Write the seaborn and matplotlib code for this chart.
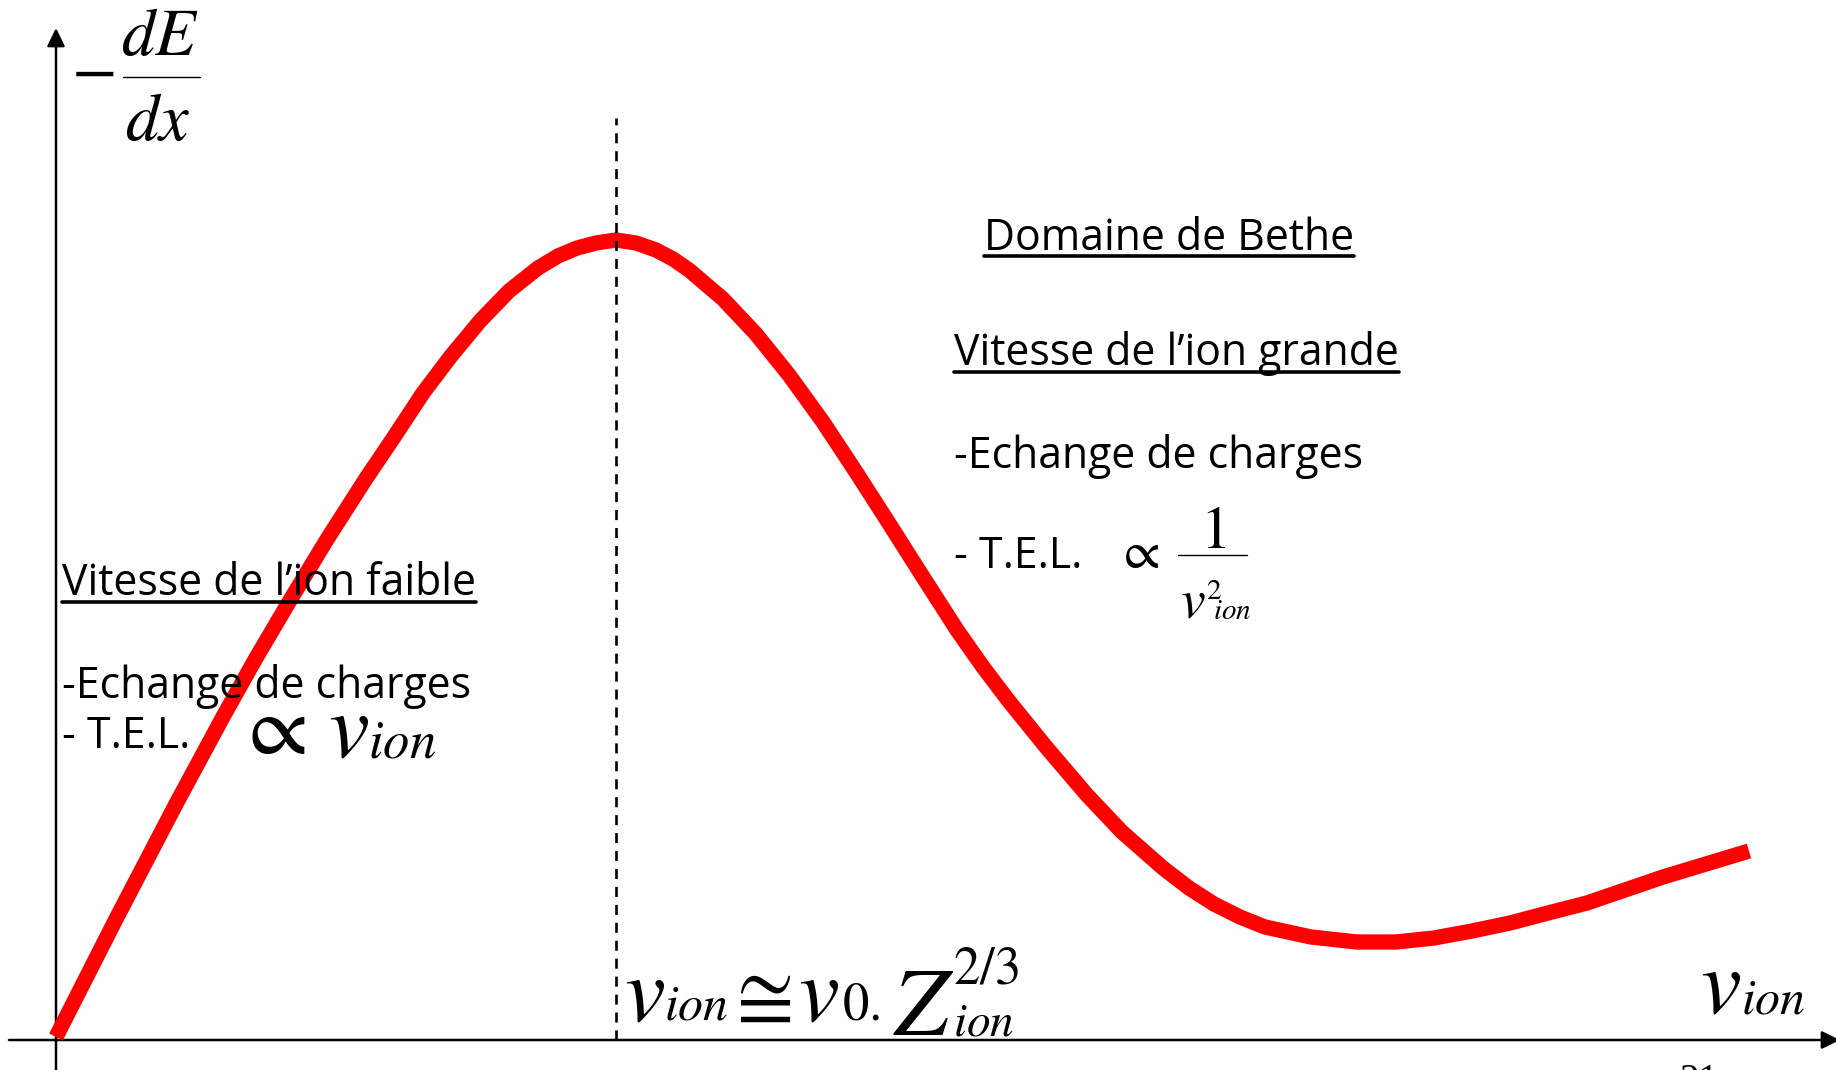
import matplotlib
matplotlib.use("Agg")
import matplotlib.pyplot as plt
import seaborn as sns
from matplotlib.lines import Line2D

sns.set_theme(style="white")
plt.rcParams["mathtext.fontset"] = "stix"
plt.rcParams["font.family"] = ["Open Sans", "DejaVu Sans"]

# Stopping power curve (arbitrary units): ion speed vs -dE/dx
speed = [0.00, 0.60, 1.20, 1.68, 2.00, 2.33, 2.70, 3.09, 3.38, 3.67, 3.95,
         4.24, 4.53, 4.82, 5.02, 5.21, 5.40, 5.60, 5.80, 6.00, 6.17, 6.33,
         6.67, 7.00, 7.33, 7.67, 8.00, 8.34, 8.67, 9.01, 9.27, 9.52, 9.90,
         10.31, 10.66, 11.07, 11.33, 11.58, 11.84, 12.09, 12.55, 13.01,
         13.40, 13.78, 14.16, 14.54, 14.92, 15.31, 15.69, 16.07, 16.50,
         16.93]
loss = [0.03, 1.21, 2.36, 3.25, 3.82, 4.38, 4.99, 5.60, 6.03, 6.47, 6.84,
        7.19, 7.49, 7.72, 7.84, 7.92, 7.97, 8.00, 7.97, 7.90, 7.81, 7.70,
        7.41, 7.06, 6.65, 6.18, 5.68, 5.15, 4.63, 4.10, 3.73, 3.40, 2.93,
        2.45, 2.08, 1.72, 1.52, 1.36, 1.23, 1.13, 1.03, 0.98,
        0.98, 1.02, 1.09, 1.17, 1.27, 1.37, 1.50, 1.63, 1.76,
        1.89]
peak_speed = 5.60
peak_line_top = 9.22

W, H = 1836, 1070
fig = plt.figure(figsize=(W / 100, H / 100), dpi=100)
fig.patch.set_facecolor("white")
ax = fig.add_axes([0, 0, 1, 1])
ax.set_xlim(-0.56, 17.80)
ax.set_ylim(-0.30, 10.40)
ax.axis("off")

# axes with arrow heads
arrow = dict(arrowstyle="-|>,head_length=0.55,head_width=0.27", lw=1.8,
             color="black", mutation_scale=20, shrinkA=0, shrinkB=0)
ax.annotate("", xy=(17.84, 0), xytext=(-0.47, 0), arrowprops=arrow,
            annotation_clip=False, zorder=1)
ax.annotate("", xy=(0, 10.12), xytext=(0, -0.30), arrowprops=arrow,
            annotation_clip=False, zorder=1)

sns.lineplot(x=speed, y=loss, ax=ax, color="#ff0000", lw=11, sort=False,
             estimator=None, solid_capstyle="butt", solid_joinstyle="round",
             zorder=3)
ax.plot([peak_speed, peak_speed], [0, peak_line_top], color="black", lw=1.9,
        linestyle=(0, (3.8, 3.0)), zorder=4)


def px(x, y):
    return x / W, 1 - y / H


def put(x, y, s, **kw):
    kw.setdefault("va", "baseline")
    kw.setdefault("ha", "left")
    kw.setdefault("color", "black")
    return fig.text(*px(x, y), s, **kw)


def hline(x0, x1, y, lw):
    fig.add_artist(Line2D([x0 / W, x1 / W], [1 - y / H, 1 - y / H],
                          transform=fig.transFigure, color="black", lw=lw))


# body text size chosen from the width of one line
renderer = fig.canvas.get_renderer()
probe = put(0, 0, "Vitesse de l\u2019ion grande", fontsize=30)
fs = 30 * 446 / probe.get_window_extent(renderer).width
probe.remove()

underlined = []
underlined.append((put(984, 250, "Domaine de Bethe", fontsize=fs), 256))
underlined.append((put(954, 365, "Vitesse de l\u2019ion grande", fontsize=fs), 372))
put(954, 468, "-Echange de charges", fontsize=fs)
put(954, 568, "- T.E.L.", fontsize=fs)
underlined.append((put(62, 595, "Vitesse de l\u2019ion faible", fontsize=fs), 602))
put(62, 698, "-Echange de charges", fontsize=fs)
put(62, 748, "- T.E.L.", fontsize=fs)

for t, uy in underlined:
    bb = t.get_window_extent(renderer)
    hline(bb.x0, bb.x1, uy, 2.6)

# -dE/dx
put(93, 90, r"$-$", fontsize=48, ha="center")
put(160, 55, r"$dE$", fontsize=48, ha="center")
hline(123, 200, 77, 1.0)
put(158, 140, r"$dx$", fontsize=48, ha="center")

# right: T.E.L. ∝ 1 / v_ion^2
put(1116, 568, r"$\propto$", fontsize=38)
put(1213, 548, r"$1$", fontsize=44, ha="center")
hline(1178, 1247, 555, 1.0)
put(1180, 617, r"$v$", fontsize=40)
put(1206, 599, r"$2$", fontsize=21)
put(1213, 619, r"$ion$", fontsize=21)

# left: T.E.L. ∝ v_ion
put(236, 754, r"$\propto$", fontsize=62)
put(328, 757, r"$v$", fontsize=66)
put(368, 757, r"$ion$", fontsize=38)

# v_ion ≅ v0 . Z_ion^(2/3)
put(624, 1020, r"$v$", fontsize=66)
put(664, 1020, r"$ion$", fontsize=36)
put(724, 1020, r"$\cong$", fontsize=60)
put(798, 1020, r"$v$", fontsize=66)
put(842, 1020, r"$\mathrm{0.}$", fontsize=38)
put(893, 1035, r"$Z$", fontsize=70)
put(953, 983, r"$\mathrm{2/3}$", fontsize=38)
put(953, 1035, r"$ion$", fontsize=34)

# axis label
put(1700, 1013, r"$v$", fontsize=66)
put(1741, 1013, r"$ion$", fontsize=36)

# page number, partly off the bottom edge
put(1679, 1063, "21", fontsize=28, va="top", family="Liberation Serif")

fig.savefig("out.png", dpi=100, facecolor="white")
